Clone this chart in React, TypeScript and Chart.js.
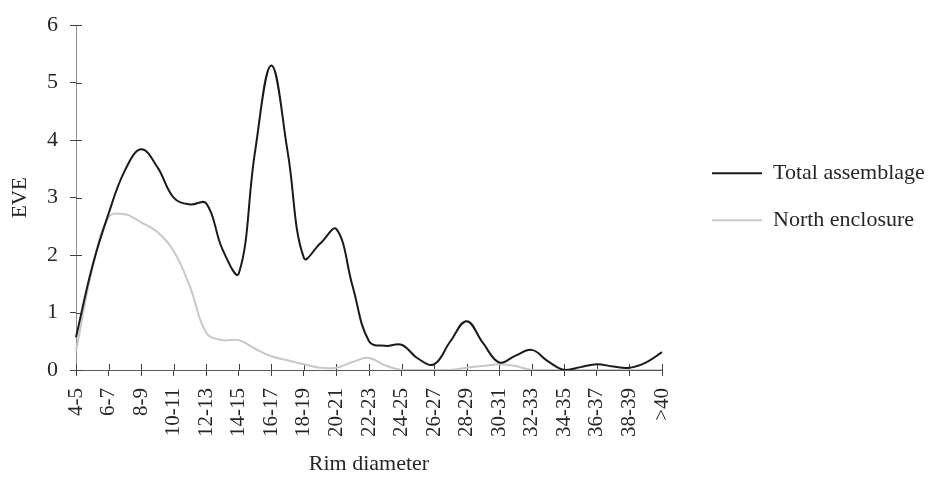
import React, { useEffect, useRef } from 'react';
import { Chart, registerables } from 'chart.js';

Chart.register(...registerables);

const categories = [
  '4-5', '5-6', '6-7', '7-8', '8-9', '9-10', '10-11', '11-12', '12-13', '13-14',
  '14-15', '15-16', '16-17', '17-18', '18-19', '19-20', '20-21', '21-22', '22-23', '23-24',
  '24-25', '25-26', '26-27', '27-28', '28-29', '29-30', '30-31', '31-32', '32-33', '33-34',
  '34-35', '35-36', '36-37', '37-38', '38-39', '39-40', '>40',
];

const totalAssemblage = [
  0.57, 1.8, 2.72, 3.47, 3.84, 3.53, 3.0, 2.88, 2.9, 2.1,
  1.68, 3.8, 5.3, 3.8, 1.95, 2.2, 2.45, 1.45, 0.5, 0.42,
  0.44, 0.2, 0.1, 0.5, 0.85, 0.47, 0.13, 0.25, 0.35, 0.15,
  0.0, 0.05, 0.1, 0.06, 0.04, 0.13, 0.31,
];

const northEnclosure = [
  0.33, 1.75, 2.66, 2.71, 2.57, 2.4, 2.07, 1.45, 0.65, 0.52,
  0.52, 0.37, 0.24, 0.17, 0.1, 0.04, 0.04, 0.14, 0.21, 0.08,
  0, 0, 0, 0, 0.04, 0.07, 0.1, 0.07, 0, 0,
  0, 0, 0, 0, 0, 0, 0,
];

const yTicks = [0, 1, 2, 3, 4, 5, 6];

const FONT = '"Liberation Serif", "Times New Roman", serif';
const TEXT = '#262626';
const TICK = '#404040';

const crossTicks = {
  id: 'crossTicks',
  beforeDatasetsDraw(chart: any) {
    const { ctx, chartArea, scales } = chart;
    const xs = scales.x;
    const ys = scales.y;
    ctx.save();
    ctx.strokeStyle = TICK;
    ctx.lineWidth = 1;
    ctx.beginPath();
    ys.ticks.forEach((_t: any, i: number) => {
      const py = Math.round(ys.getPixelForTick(i)) + 0.5;
      ctx.moveTo(chartArea.left, py);
      ctx.lineTo(chartArea.left + 6, py);
    });
    xs.ticks.forEach((_t: any, i: number) => {
      if (i % 2) return;
      const px = Math.round(xs.getPixelForTick(i)) + 0.5;
      ctx.moveTo(px, chartArea.bottom);
      ctx.lineTo(px, chartArea.bottom - 6);
    });
    ctx.stroke();
    ctx.restore();
  },
};

const sideLegend = {
  id: 'sideLegend',
  afterDraw(chart: any) {
    const { ctx, chartArea } = chart;
    ctx.save();
    ctx.font = `22px ${FONT}`;
    ctx.textBaseline = 'middle';
    ctx.textAlign = 'left';
    chart.data.datasets.forEach((ds: any, i: number) => {
      const y = chartArea.top + 148 + i * 47;
      const x = chartArea.right + 50;
      ctx.strokeStyle = ds.borderColor;
      ctx.lineWidth = 2;
      ctx.beginPath();
      ctx.moveTo(x, y);
      ctx.lineTo(x + 50, y);
      ctx.stroke();
      ctx.fillStyle = TEXT;
      ctx.fillText(ds.label, x + 61, y);
    });
    ctx.restore();
  },
};

export default function App() {
  const ref = useRef<HTMLCanvasElement | null>(null);

  useEffect(() => {
    document.body.style.margin = '0';
    const canvas = ref.current;
    if (!canvas) return;
    const chart = new Chart(canvas, {
      type: 'line',
      data: {
        labels: categories,
        datasets: [
          {
            label: 'Total assemblage',
            data: totalAssemblage,
            borderColor: '#1a1a1a',
            backgroundColor: '#1a1a1a',
            borderWidth: 2,
            pointRadius: 0,
            tension: 0.4,
            fill: false,
          },
          {
            label: 'North enclosure',
            data: northEnclosure,
            borderColor: '#c8c8c8',
            backgroundColor: '#c8c8c8',
            borderWidth: 2,
            pointRadius: 0,
            tension: 0.4,
            fill: false,
          },
        ],
      },
      options: {
        responsive: false,
        animation: false,
        layout: { padding: { top: 20, right: 270, bottom: 0, left: 0 } },
        plugins: {
          legend: { display: false },
          tooltip: { enabled: false },
        },
        scales: {
          x: {
            type: 'category',
            offset: false,
            afterFit: (s: any) => {
              s.height = 107;
            },
            border: { display: true, color: '#595959', width: 1 },
            grid: {
              display: true,
              drawOnChartArea: false,
              drawTicks: true,
              tickLength: 6,
              color: 'rgba(0,0,0,0)',
              tickColor: (c: any) => (c.index % 2 === 0 ? TICK : 'rgba(0,0,0,0)'),
            },
            ticks: {
              autoSkip: false,
              minRotation: 90,
              maxRotation: 90,
              padding: 12,
              color: TEXT,
              font: { family: FONT, size: 21 },
              callback: function (this: any, value: any, index: number) {
                return index % 2 === 0 ? categories[index] : '';
              },
            },
            title: {
              display: true,
              text: 'Rim diameter',
              color: TEXT,
              font: { family: FONT, size: 22 },
              padding: { top: 0, bottom: 0 },
            },
          },
          y: {
            min: yTicks[0],
            max: yTicks[yTicks.length - 1],
            afterFit: (s: any) => {
              s.width = 76;
            },
            afterBuildTicks: (s: any) => {
              s.ticks = yTicks.map((v) => ({ value: v }));
            },
            border: { display: true, color: '#8c8c8c', width: 1 },
            grid: {
              display: true,
              drawOnChartArea: false,
              drawTicks: true,
              tickLength: 6,
              color: TICK,
              tickColor: TICK,
            },
            ticks: {
              padding: 12,
              color: TEXT,
              font: { family: FONT, size: 22 },
            },
            title: {
              display: true,
              text: 'EVE',
              color: TEXT,
              font: { family: FONT, size: 21 },
              padding: { top: 8, bottom: 0 },
            },
          },
        },
      },
      plugins: [crossTicks, sideLegend],
    });
    return () => chart.destroy();
  }, []);

  return (
    <div style={{ width: 932, height: 477 }}>
      <canvas ref={ref} width={932} height={477} />
    </div>
  );
}
